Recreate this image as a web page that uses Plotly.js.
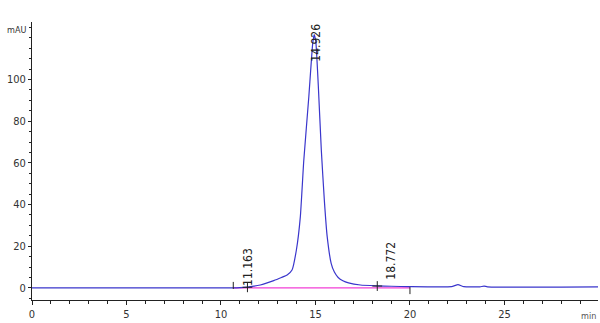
<!DOCTYPE html>
<html>
<head>
<meta charset="utf-8">
<script src="https://cdn.plot.ly/plotly-3.0.1.min.js"></script>
<style>
html,body{margin:0;padding:0;background:#fff;}
#chart{width:600px;height:323px;}
</style>
</head>
<body>
<div id="chart"></div>
<script>
// Chromatogram signal (time in min, absorbance in mAU)
var timeMin = [0, 10.6, 11.0, 11.4, 12.08, 12.79, 13.2, 13.5, 13.76, 13.99, 14.2, 14.38, 14.65, 14.85, 14.93, 15.02, 15.15, 15.31, 15.47, 15.62, 15.83, 16.0, 16.2, 16.45, 16.75, 17.38, 18.27, 19.0, 20.0, 22.2, 22.54, 22.85, 23.7, 23.92, 24.1, 29.95];
var signalMAU = [0, 0, 0.1, 0.4, 1.4, 3.5, 5.0, 6.2, 8.6, 18.2, 34.2, 61, 92, 117, 121.5, 118, 97, 66, 42, 24.6, 11.8, 7.6, 5.0, 3.4, 2.4, 1.4, 1.0, 0.8, 0.6, 0.6, 1.6, 0.6, 0.5, 0.9, 0.5, 0.5];

// Integration baseline
var baselineTime = [10.65, 20.0];
var baselineMAU = [0, 0];

// Peak retention-time labels
var peakLabels = ["11.163", "14.926", "18.772"];
var peakLabelX = [11.4, 15.02, 19.0];
var peakLabelY = [0.2, 107.5, 3.0];

// Peak boundary markers
var crossX = [11.4, 18.27];
var crossY = [0.3, 0.9];
var tickMarkX = [10.65, 20.0];
var tickMarkY = [1.2, -1.3];

var xTicks = [0, 5, 10, 15, 20, 25];
var yTicks = [0, 20, 40, 60, 80, 100];

var fontFam = '"DejaVu Sans Condensed", "Liberation Sans Narrow", "Arial Narrow", sans-serif';

var traces = [
  {x: baselineTime, y: baselineMAU, type: 'scatter', mode: 'lines',
   line: {color: '#f23fd6', width: 1.3}, hoverinfo: 'skip'},
  {x: timeMin, y: signalMAU, type: 'scatter', mode: 'lines',
   line: {color: '#3a36cc', width: 1.2, shape: 'spline', smoothing: 0.4}},
  {x: crossX, y: crossY, type: 'scatter', mode: 'markers',
   marker: {symbol: 'cross-thin', size: 7, line: {color: '#222', width: 1}}},
  {x: tickMarkX, y: tickMarkY, type: 'scatter', mode: 'markers',
   marker: {symbol: 'line-ns', size: 5, line: {color: '#222', width: 1}}}
];

var annotations = peakLabels.map(function(t, i){
  return {x: peakLabelX[i], y: peakLabelY[i], xref: 'x', yref: 'y', text: t,
    showarrow: false, textangle: -90, xanchor: 'center', yanchor: 'bottom',
    font: {family: fontFam, size: 12, color: '#222'}};
});
annotations.push({xref: 'paper', yref: 'y', x: 0, y: 123.7, text: 'mAU', showarrow: false,
  xanchor: 'right', yanchor: 'middle', xshift: -4, font: {family: fontFam, size: 9, color: '#333'}});
annotations.push({xref: 'paper', yref: 'paper', x: 1, y: -0.058, text: 'min', showarrow: false,
  xanchor: 'right', yanchor: 'middle', font: {family: fontFam, size: 9, color: '#555'}});

var layout = {
  width: 600, height: 323,
  margin: {l: 32, r: 2, t: 22, b: 23},
  paper_bgcolor: '#fff', plot_bgcolor: '#fff',
  showlegend: false,
  xaxis: {range: [0, 29.95], tickvals: xTicks, ticktext: xTicks.map(String),
    showline: true, linecolor: '#222', linewidth: 1, ticks: 'outside', ticklen: 4,
    tickcolor: '#222', showgrid: false, zeroline: false,
    tickfont: {family: fontFam, size: 11, color: '#333'},
    minor: {dtick: 1, tick0: 0, ticks: 'outside', ticklen: 3, tickcolor: '#222', showgrid: false}},
  yaxis: {range: [-5.8, 127.6], tickvals: yTicks, ticktext: yTicks.map(String),
    showline: true, linecolor: '#222', linewidth: 1, ticks: 'outside', ticklen: 3,
    tickcolor: '#222', showgrid: false, zeroline: false,
    tickfont: {family: fontFam, size: 11, color: '#333'},
    minor: {dtick: 5, tick0: 0, ticks: 'outside', ticklen: 2, tickcolor: '#222', showgrid: false}},
  annotations: annotations
};

Plotly.newPlot('chart', traces, layout, {displayModeBar: false, staticPlot: true});
</script>
</body>
</html>
